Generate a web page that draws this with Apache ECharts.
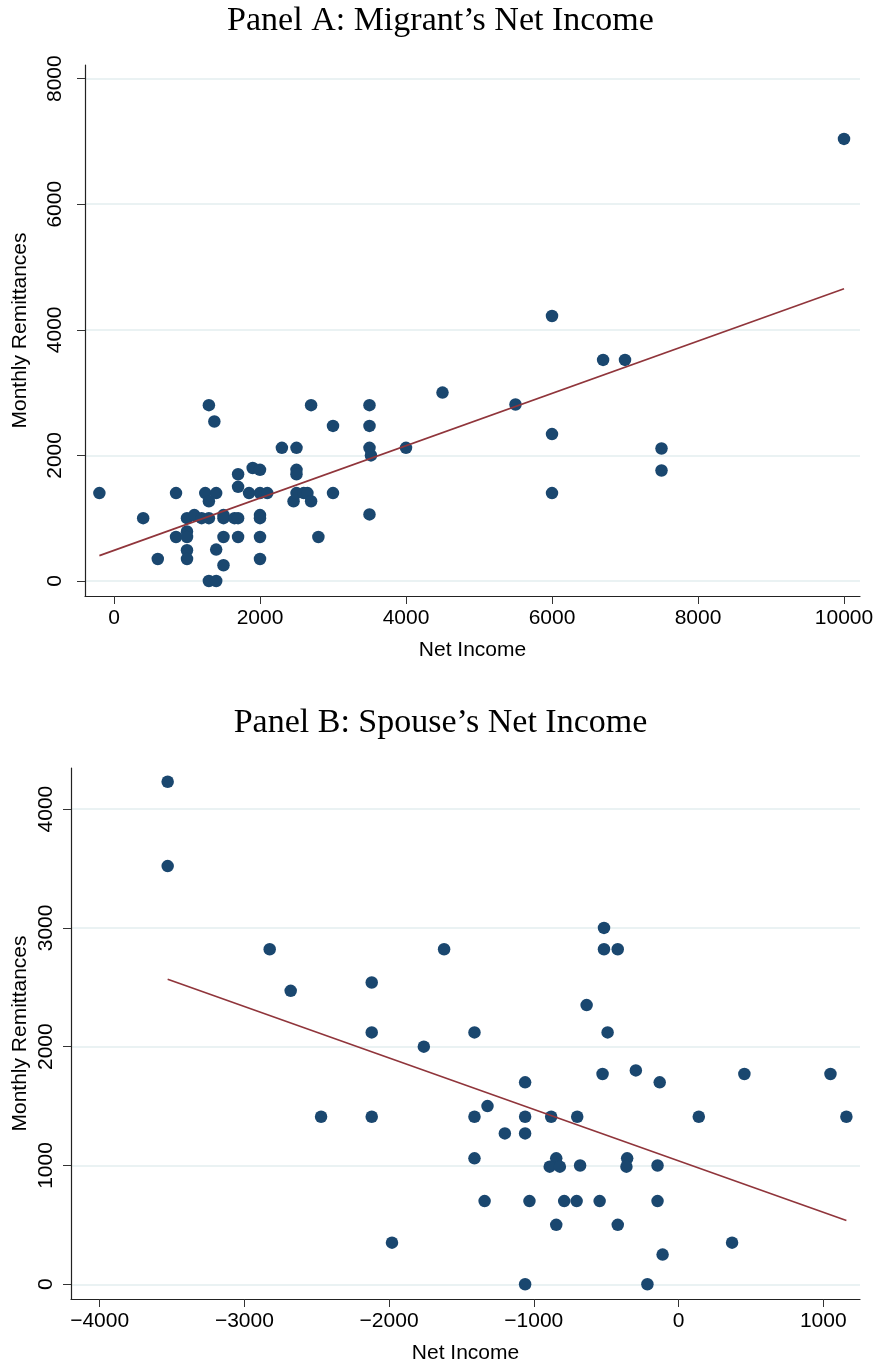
<!DOCTYPE html>
<html>
<head>
<meta charset="utf-8">
<script src="https://cdn.jsdelivr.net/npm/echarts@6/dist/echarts.min.js"></script>
<style>
html,body{margin:0;padding:0;background:#fff;}
#chart{width:881px;height:1367px;}
</style>
</head>
<body>
<div id="chart"></div>
<script>
// Panel A: migrant's net income vs monthly remittances
const migrantIncome = [-200,400,600,850,850,1000,1000,1000,1000,1000,1100,1200,1250,1300,1375,1400,1300,1300,1300,1400,1400,1500,1500,1500,1500,1650,1700,1700,1700,1700,1850,1900,2000,2000,2000,2000,2000,2000,2100,2300,2500,2500,2500,2460,2500,2600,2650,2700,2700,2800,3000,3000,3500,3500,3500,3520,3500,4000,4500,5500,6000,6000,6000,6700,7000,7500,7500,10000];
const migrantRemit  = [1400,1000,350,1400,700,1000,790,700,490,350,1050,1000,1400,2800,2540,1400,1270,1000,0,0,500,1050,1000,700,250,1000,1000,1700,1500,700,1400,1800,1770,1400,1050,1000,700,350,1400,2120,2120,1770,1700,1270,1400,1400,1400,1270,2800,700,2470,1400,2800,2470,2120,2000,1060,2120,3000,2810,4220,2340,1400,3520,3520,2110,1760,7040];
const migrantFitX = [-200,10000];
const migrantFitY = [404,4655];

// Panel B: spouse's net income vs monthly remittances
const spouseIncome = [-3530,-3530,-2825,-2680,-2470,-2120,-2120,-2120,-1980,-1760,-1620,-1410,-1410,-1410,-1320,-1340,-1200,-1060,-1060,-1060,-1060,-1030,-880,-845,-890,-820,-845,-790,-700,-704,-680,-635,-545,-525,-515,-515,-420,-490,-420,-355,-360,-295,-130,-145,-145,-110,-215,140,370,455,1050,1160];
const spouseRemit  = [4230,3520,2820,2470,1410,2540,2120,1410,350,2000,2820,2120,1410,1060,1500,700,1270,1700,1410,1270,0,700,1410,1060,990,990,500,700,1410,700,1000,2350,700,1770,3000,2820,2820,2120,500,1060,990,1800,1700,1000,700,250,0,1410,350,1770,1770,1410];
const spouseFitX = [-3530,1160];
const spouseFitY = [2567,537];

const aXTicks = [0,2000,4000,6000,8000,10000];
const aYTicks = [0,2000,4000,6000,8000];
const bXTicks = [-4000,-3000,-2000,-1000,0,1000];
const bYTicks = [0,1000,2000,3000,4000];

const titles = ["Panel A: Migrant\u2019s Net Income", "Panel B: Spouse\u2019s Net Income"];
const xName = "Net Income";
const yName = "Monthly Remittances";

const zip = (a,b) => a.map((v,i)=>[v,b[i]]);
const NAVY = '#1a476f', MAROON = '#90353b', AXIS = '#222', GRID = '#eaf2f3';
const SANS = 'Liberation Sans', SERIF = 'Liberation Serif';
const FS = 21;
const fmt = v => String(v).replace('-', '\u2212');

function xAxis(gridIndex, min, max, ticks){
  return {
    type:'value', gridIndex, min, max,
    name: xName, nameLocation:'middle', nameGap: 44, nameMoveOverlap:false,
    nameTextStyle:{fontFamily:SANS, fontSize:FS, color:'#000', verticalAlign:'top'},
    axisLine:{show:true, onZero:false, lineStyle:{color:AXIS, width:1.2}},
    axisTick:{show:true, length:8, lineStyle:{color:'#333'}, customValues: ticks},
    axisLabel:{show:true, margin:12, fontFamily:SANS, fontSize:FS, color:'#000', customValues: ticks, formatter: fmt},
    splitLine:{show:false}
  };
}
function yAxis(gridIndex, min, max, ticks, gap, margin){
  return {
    type:'value', gridIndex, min, max,
    name: yName, nameLocation:'middle', nameGap: gap, nameRotate: 90, nameMoveOverlap:false,
    nameTextStyle:{fontFamily:SANS, fontSize:FS, color:'#000'},
    axisLine:{show:true, onZero:false, lineStyle:{color:AXIS, width:1.2}},
    axisTick:{show:true, length:8, lineStyle:{color:'#333'}, customValues: ticks},
    axisLabel:{show:true, rotate:90, margin, fontFamily:SANS, fontSize:FS, color:'#000', customValues: ticks, formatter: fmt},
    splitLine:{show:true, lineStyle:{color:GRID, width:2}}
  };
}

const chart = echarts.init(document.getElementById('chart'), null, {renderer:'canvas'});
chart.setOption({
  backgroundColor:'#fff',
  animation:false,
  title:[
    {text:titles[0], left:'center', top:-1, textStyle:{fontFamily:SERIF, fontSize:34, fontWeight:'normal', color:'#000'}},
    {text:titles[1], left:'center', top:701, textStyle:{fontFamily:SERIF, fontSize:34, fontWeight:'normal', color:'#000'}}
  ],
  grid:[
    {left:85, top:65, width:775, height:531, containLabel:false, outerBoundsMode:'none'},
    {left:71, top:768, width:789, height:531, containLabel:false, outerBoundsMode:'none'}
  ],
  xAxis:[ xAxis(0,-397,10219,aXTicks), xAxis(1,-4198,1254,bXTicks) ],
  yAxis:[ yAxis(0,-239,8217,aYTicks,54,19), yAxis(1,-124,4346,bYTicks,40,14) ],
  series:[
    {type:'scatter', xAxisIndex:0, yAxisIndex:0, data: zip(migrantIncome, migrantRemit), symbol:'circle', symbolSize:12.5, itemStyle:{color:NAVY, opacity:1}, z:2},
    {type:'line', xAxisIndex:0, yAxisIndex:0, data: zip(migrantFitX, migrantFitY), showSymbol:false, symbol:'none', lineStyle:{color:MAROON, width:1.6}, z:3},
    {type:'scatter', xAxisIndex:1, yAxisIndex:1, data: zip(spouseIncome, spouseRemit), symbol:'circle', symbolSize:12.5, itemStyle:{color:NAVY, opacity:1}, z:2},
    {type:'line', xAxisIndex:1, yAxisIndex:1, data: zip(spouseFitX, spouseFitY), showSymbol:false, symbol:'none', lineStyle:{color:MAROON, width:1.6}, z:3}
  ]
});
</script>
</body>
</html>
